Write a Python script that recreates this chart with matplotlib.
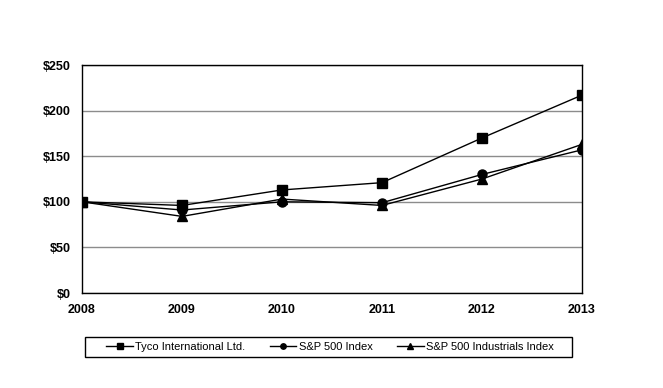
import matplotlib
matplotlib.use("Agg")
import matplotlib.pyplot as plt
from matplotlib.ticker import FuncFormatter
from matplotlib.patches import Rectangle

years = [2008, 2009, 2010, 2011, 2012, 2013]
tyco = [100, 96, 113, 121, 170, 217]
sp500 = [100, 91, 100, 99, 130, 157]
industrials = [100, 84, 103, 96, 125, 163]
series_names = ["Tyco International Ltd.", "S&P 500 Index", "S&P 500 Industrials Index"]
yticks = [0, 50, 100, 150, 200, 250]

plt.rcParams['font.family'] = ['Liberation Sans', 'DejaVu Sans']

W, H = 663, 388
fig = plt.figure(figsize=(W/100, H/100), dpi=100)
ax = fig.add_axes([82/W, 1-293/H, 500/W, 228/H])

ax.plot(years, tyco, color='black', lw=1, marker='s', ms=6.5, label=series_names[0])
ax.plot(years, sp500, color='black', lw=1, marker='o', ms=6.5, label=series_names[1])
ax.plot(years, industrials, color='black', lw=1, marker='^', ms=6.5, label=series_names[2])

ax.set_xlim(2008, 2013)
ax.set_ylim(0, 250)
ax.set_yticks(yticks)
ax.set_xticks(years)
ax.yaxis.set_major_formatter(FuncFormatter(lambda v, p: f"${int(v)}"))
ax.yaxis.grid(True, color='#8c8c8c', lw=1)
ax.set_axisbelow(True)
for s in ax.spines.values():
    s.set_color('black')
    s.set_linewidth(1)
ax.tick_params(axis='both', length=0, labelsize=9)
ax.tick_params(axis='y', pad=8)
ax.tick_params(axis='x', pad=8)
for lab in ax.get_xticklabels() + ax.get_yticklabels():
    lab.set_fontweight('bold')

handles, labels = ax.get_legend_handles_labels()
leg = fig.legend(handles, labels, loc='center', bbox_to_anchor=(330/W, 1-347/H),
                 ncol=3, frameon=False,
                 fontsize=8, markerscale=0.6, handlelength=2.4, columnspacing=2.2,
                 borderpad=0.3, handletextpad=0.2)
fig.patches.append(Rectangle((85/W, 1-357/H), 487/W, 20/H, transform=fig.transFigure,
                             fill=False, edgecolor='black', lw=1))

fig.savefig("out.png", dpi=100)
